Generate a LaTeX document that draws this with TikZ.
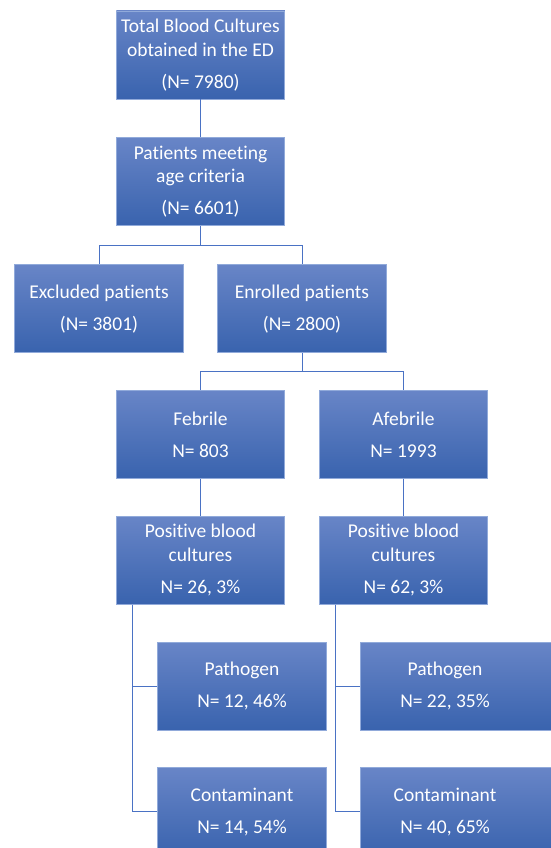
\documentclass[tikz,border=0pt]{standalone}
\usepackage{fontspec}
\setmainfont[Ligatures=NoCommon]{Carlito}
\usepackage{tikz}
\usetikzlibrary{positioning}
\definecolor{boxtop}{RGB}{104,133,199}
\definecolor{boxbot}{RGB}{57,99,174}
\definecolor{boxedge}{RGB}{145,170,218}
\definecolor{linkblue}{RGB}{74,114,196}
\tikzset{
  flowbox/.style={rectangle, draw=boxedge, top color=boxtop, bottom color=boxbot,
    minimum width=168.5pt, minimum height=88pt, inner sep=2pt, align=center,
    text=white, font=\fontsize{19.5}{23.5}\selectfont, line width=0.8pt},
  widebox/.style={flowbox, anchor=north west, minimum width=220pt},
  link/.style={draw=linkblue, line width=0.9pt}
}
% text of a box that runs off the right edge
\newcommand{\edgecell}[1]{\makebox[216pt][l]{\makebox[164.5pt]{#1}}}

\begin{document}
\begin{tikzpicture}
  \useasboundingbox (0,0) rectangle (551pt,-848pt);
  \clip (0,0) rectangle (551pt,-848pt);

  \node[flowbox] (total) at (200.5pt,-55pt) {Total Blood Cultures\\obtained in the ED\\[8.5pt](N= 7980)};
  \node[flowbox, below=38pt of total] (meet) {Patients meeting\\age criteria\\[8.5pt](N= 6601)};
  \node[flowbox, below=38pt of meet, xshift=-101.5pt] (excl) {Excluded patients\\[8.5pt](N= 3801)};
  \node[flowbox, below=38pt of meet, xshift=101.5pt] (enrol) {Enrolled patients\\[8.5pt](N= 2800)};
  \node[flowbox, below=37pt of enrol, xshift=-101.5pt] (feb) {Febrile\\[8.5pt]N= 803};
  \node[flowbox, below=37pt of enrol, xshift=101.5pt] (afeb) {Afebrile\\[8.5pt]N= 1993};
  \node[flowbox, below=37pt of feb] (posf) {Positive blood\\cultures\\[8.5pt]N= 26, 3\%};
  \node[flowbox, below=37pt of afeb] (posa) {Positive blood\\cultures\\[8.5pt]N= 62, 3\%};
  \node[flowbox, below=37pt of posf, xshift=41.5pt] (pathf) {Pathogen\\[8.5pt]N= 12, 46\%};
  \node[flowbox, below=37pt of pathf] (contf) {Contaminant\\[8.5pt]N= 14, 54\%};
  \node[widebox] (patha) at ([xshift=41.5pt, yshift=-37pt]posa.south west) {\edgecell{Pathogen}\\[8.5pt]\edgecell{N= 22, 35\%}};
  \node[widebox] (conta) at ([yshift=-37pt]patha.south west) {\edgecell{Contaminant}\\[8.5pt]\edgecell{N= 40, 65\%}};

  \draw[link] (total) -- (meet);
  \draw[link] (meet.south) -- ++(0,-19pt) coordinate (split1) -| (excl.north);
  \draw[link] (split1) -| (enrol.north);
  \draw[link] (enrol.south) -- ++(0,-18.5pt) coordinate (split2) -| (feb.north);
  \draw[link] (split2) -| (afeb.north);
  \draw[link] (feb) -- (posf);
  \draw[link] (afeb) -- (posa);
  \draw[link] ([xshift=16.5pt]posf.south west) |- (pathf.west);
  \draw[link] ([xshift=16.5pt]posf.south west) |- (contf.west);
  \draw[link] ([xshift=16.5pt]posa.south west) |- (patha.west);
  \draw[link] ([xshift=16.5pt]posa.south west) |- (conta.west);
\end{tikzpicture}
\end{document}
